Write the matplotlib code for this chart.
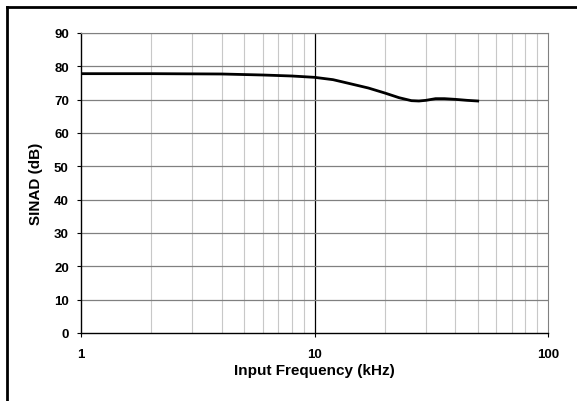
import matplotlib
matplotlib.use('Agg')
import matplotlib.pyplot as plt
from matplotlib.lines import Line2D
from matplotlib.ticker import FixedLocator, NullFormatter

plt.rcParams['font.family'] = ['Liberation Sans', 'DejaVu Sans']
plt.rcParams['font.weight'] = 'bold'

# SINAD vs input frequency
freq_khz = [1, 2, 4, 6, 8, 10, 12, 14, 17, 20, 23, 26, 28, 30, 33, 36, 40, 45, 50]
sinad_db = [77.8, 77.8, 77.7, 77.4, 77.1, 76.7, 76.0, 74.9, 73.5, 72.0, 70.6,
            69.7, 69.6, 69.8, 70.3, 70.3, 70.1, 69.8, 69.6]

y_ticks = [0, 10, 20, 30, 40, 50, 60, 70, 80, 90]
x_ticks = [1, 10, 100]
x_labels = ['1', '10', '100']

fig = plt.figure(figsize=(5.77, 4.02), dpi=100)
W, H = 577, 402
ax = fig.add_axes([81 / W, 1 - 334 / H, (548 - 81) / W, (334 - 34) / H])

minor = [m * d for d in (1, 10) for m in range(2, 10)]
for x in minor:
    ax.axvline(x, color='#c8c8c8', lw=0.8, zorder=1)
ax.axvline(10, color='black', lw=0.9, zorder=1)
for y in y_ticks[1:]:
    ax.axhline(y, color='#808080', lw=0.9, zorder=1)

ax.plot(freq_khz, sinad_db, color='black', lw=2, zorder=3)

ax.set_xscale('log')
ax.set_xlim(1, 100)
ax.set_ylim(0, 90)
ax.xaxis.set_major_locator(FixedLocator(x_ticks))
ax.set_xticklabels(x_labels)
ax.xaxis.set_minor_locator(FixedLocator([]))
ax.xaxis.set_minor_formatter(NullFormatter())
ax.set_yticks(y_ticks)
ax.tick_params(axis='both', labelsize=9.5, length=2.8, width=0.8, color='black')
ax.tick_params(axis='x', pad=8)
ax.tick_params(axis='y', pad=6)

for s in ('top', 'right'):
    ax.spines[s].set_color('#808080')
for s in ('left', 'bottom'):
    ax.spines[s].set_color('black')
    ax.spines[s].set_linewidth(1.0)

ax.set_xlabel('Input Frequency (kHz)', fontsize=11, fontweight='bold', labelpad=2.5)
ax.set_ylabel('SINAD (dB)', fontsize=11, fontweight='bold', labelpad=8)

# outer frame (top and left edges visible)
fig.add_artist(Line2D([6.5 / W, 1.0], [1 - 7.5 / H, 1 - 7.5 / H], color='black', lw=2))
fig.add_artist(Line2D([6.5 / W, 6.5 / W], [0, 1 - 7.5 / H], color='black', lw=2))

fig.savefig('out.png', dpi=100)
